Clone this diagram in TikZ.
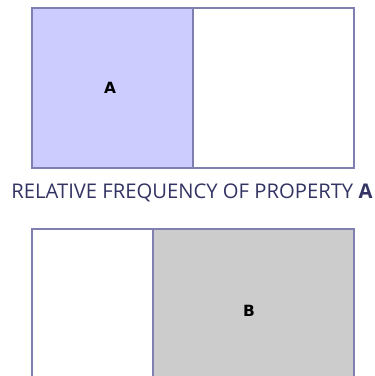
\documentclass[tikz,border=0pt]{standalone}
\usepackage{fontspec}
\newfontfamily\legende{Open Sans}
\newfontfamily\lettre{DejaVu Sans}
\definecolor{bord}{RGB}{128,128,176}
\definecolor{lavande}{RGB}{204,204,255}
\definecolor{gris}{RGB}{204,204,204}
\definecolor{encre}{RGB}{52,52,100}

\begin{document}
\begin{tikzpicture}[x=1bp, y=1bp, line width=1.5bp]
    \useasboundingbox (0,0) rectangle (375,376);
    \clip (0,0) rectangle (375,376);

    % Rectangle du haut (propriete A)
    \fill[lavande] (32,368) rectangle (193,208);
    \draw[bord] (32,368) rectangle (354,208);
    \draw[bord] (193,368) -- (193,208);
    \node[font=\lettre\bfseries\fontsize{15.5}{16}\selectfont] (A) at (110,288) {A};

    % Legende
    \node[anchor=base, text=encre, font=\legende\fontsize{20.3}{21}\selectfont] (leg) at (192,178)
        {RELATIVE FREQUENCY OF PROPERTY \textbf{A}};

    % Rectangle du bas (propriete B)
    \fill[gris] (153,147) rectangle (354,-13);
    \draw[bord] (32,147) rectangle (354,-13);
    \draw[bord] (153,147) -- (153,-13);
    \node[font=\lettre\bfseries\fontsize{15.5}{16}\selectfont] (B) at (249,65) {B};
\end{tikzpicture}
\end{document}
